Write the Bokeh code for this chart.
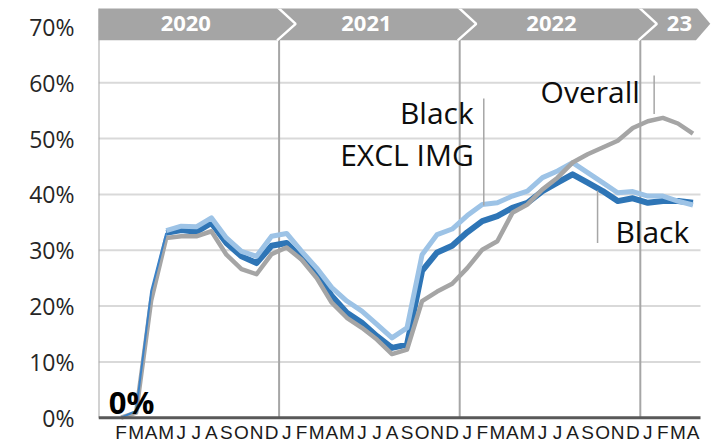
import math
from bokeh.plotting import figure
from bokeh.models import Range1d, FixedTicker
from bokeh.core.properties import value
from bokeh.embed import file_html
from bokeh.resources import INLINE

nan = math.nan

# ---- data (index 0 = Jan 2020 ... 39 = Apr 2023), values in % ----
month_letters = ["", "F", "M", "A", "M", "J", "J", "A", "S", "O", "N", "D",
                 "J", "F", "M", "A", "M", "J", "J", "A", "S", "O", "N", "D",
                 "J", "F", "M", "A", "M", "J", "J", "A", "S", "O", "N", "D",
                 "J", "F", "M", "A"]
years = ["2020", "2021", "2022", "23"]

black = [nan, 0.0, 1.2, 22.7, 33.1, 33.6, 33.3, 34.9, 31.3, 28.9, 27.7, 30.8,
         31.3, 28.6, 26.0, 21.8, 18.8, 17.0, 14.6, 12.5, 13.1, 26.3, 29.6, 30.8,
         33.2, 35.2, 36.1, 37.6, 38.5, 40.6, 42.1, 43.6, 42.1, 40.6, 38.8, 39.3,
         38.5, 38.8, 38.8, 38.5]
black_excl_img = [nan, nan, nan, nan, 33.5, 34.3, 34.2, 35.8, 32.2, 29.8, 28.9, 32.5,
                  33.0, 29.8, 26.8, 23.3, 20.9, 19.1, 16.7, 14.3, 16.1, 29.2, 32.8, 33.8,
                  36.2, 38.2, 38.5, 39.7, 40.6, 43.0, 44.2, 45.7, 43.9, 42.1, 40.3, 40.5,
                  39.7, 39.7, 38.8, 38.1]
overall = [nan, 0.0, 0.9, 21.0, 32.2, 32.5, 32.5, 33.4, 29.2, 26.6, 25.7, 29.3,
           30.5, 28.3, 25.0, 20.6, 17.9, 16.1, 14.0, 11.4, 12.2, 20.9, 22.6, 24.0,
           26.8, 30.1, 31.6, 36.7, 38.2, 40.9, 43.0, 45.7, 47.2, 48.4, 49.6, 51.9,
           53.1, 53.7, 52.7, 50.9]
y_ticks = [0, 10, 20, 30, 40, 50, 60, 70]

idx = list(range(len(month_letters)))
n = len(idx)
year_bounds = [-0.5, 11.5, 23.5, 35.5, n - 0.5]

# ---- figure ----
p = figure(frame_width=616, frame_height=412,
           x_range=Range1d(-0.5, 40.43), y_range=Range1d(-0.5, 73.3),
           output_backend="svg", toolbar_location=None,
           min_border_left=98, min_border_right=4, min_border_top=8,
           min_border_bottom=25, background_fill_color="white")
p.outline_line_color = None
p.xgrid.visible = False
p.ygrid.visible = False

# y axis
p.yaxis.ticker = FixedTicker(ticks=y_ticks)
p.yaxis.major_label_overrides = {t: f"{t}%" for t in y_ticks}
p.yaxis.axis_line_color = None
p.yaxis.major_tick_line_color = None
p.yaxis.minor_tick_line_color = None
p.yaxis.major_tick_out = 0
p.yaxis.major_tick_in = 0
p.yaxis.major_label_standoff = 24
p.yaxis.major_label_text_font = "Open Sans"
p.yaxis.major_label_text_font_size = "23px"
p.yaxis.major_label_text_color = "#262626"

# x axis
p.xaxis.ticker = FixedTicker(ticks=idx)
p.xaxis.major_label_overrides = {i: month_letters[i] for i in idx}
p.xaxis.axis_line_color = None
p.xaxis.major_tick_line_color = None
p.xaxis.minor_tick_line_color = None
p.xaxis.major_tick_out = 0
p.xaxis.major_tick_in = 0
p.xaxis.major_label_standoff = 1
p.xaxis.major_label_text_font = "Liberation Sans"
p.xaxis.major_label_text_font_size = "19px"
p.xaxis.major_label_text_color = "#1a1a1a"

# grid lines (horizontal), year separators, left axis
p.segment(x0=[-0.5] * (len(y_ticks) - 1), x1=[n - 0.5] * (len(y_ticks) - 1),
          y0=y_ticks[1:], y1=y_ticks[1:], line_color="#d9d9d9", line_width=2)
p.segment(x0=year_bounds[1:-1], x1=year_bounds[1:-1], y0=[0] * 3, y1=[73.3] * 3,
          line_color="#a6a6a6", line_width=2)
p.segment(x0=[-0.5], x1=[-0.5], y0=[0], y1=[73.3], line_color="#a6a6a6", line_width=2)

# series
p.line(idx[4:], black[4:], line_color="#2e75b6", line_width=6, line_join="round")
p.line(idx, black_excl_img, line_color="#9dc3e6", line_width=5, line_join="round")
p.line(idx, overall, line_color="#a5a5a5", line_width=4.5, line_join="round")
p.line(idx[:5], black[:5], line_color="#3b82c8", line_width=2, line_join="round")

# bottom axis line
p.segment(x0=[-0.5], x1=[n - 0.5], y0=[0], y1=[0], line_color="#595959", line_width=3)

# annotations
p.segment(x0=[25.1, 36.42, 32.66], x1=[25.1, 36.42, 32.66],
          y0=[57.2, 61.3, 40.7], y1=[38.0, 54.4, 31.3],
          line_color="#a6a6a6", line_width=1.5)
p.text(x=[24.43, 24.43, 35.47, 38.75], y=[54.7, 47.2, 58.5, 33.4],
       text=["Black", "EXCL IMG", "Overall", "Black"],
       text_font=value("Open Sans"), text_font_size="30px",
       text_align="right", text_baseline="middle", text_color="#0d0d0d")
p.text(x=[0.18], y=[2.78], text=["0%"], text_font=value("Open Sans"),
       text_font_size="31px", text_font_style="bold",
       text_align="left", text_baseline="middle", text_color="#000000")

# year banner
top, mid, bot = 73.6, 70.55, 67.6
left = -0.77
end_top, end_tip = 39.2, 40.15
p.patch(x=[left, end_top, end_tip, end_top, left],
        y=[top, top, mid, bot, bot], fill_color="#a5a5a5", line_color=None)
p.multi_line(xs=[[b - 0.13, b + 1.1, b - 0.13] for b in year_bounds[1:-1]],
             ys=[[top, mid, bot]] * 3, line_color="white", line_width=2.5)
year_label_x = [5.3, 17.3, 29.6, 38.1]
p.text(x=year_label_x, y=[mid] * 4, text=years, text_font=value("Open Sans"),
       text_font_size="22px", text_font_style="bold", text_color="white",
       text_align="center", text_baseline="middle")

open("out.html", "w").write(file_html(p, INLINE))
